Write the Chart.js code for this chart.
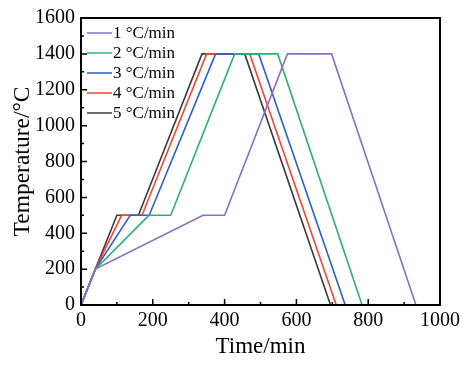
<!DOCTYPE html>
<html>
<head>
<meta charset="utf-8">
<script src="https://cdn.jsdelivr.net/npm/chart.js@4.4.0/dist/chart.umd.min.js"></script>
<style>
  body { margin: 0; background: #fff; }
  #wrap { width: 464px; height: 365px; }
</style>
</head>
<body>
<div id="wrap"><canvas id="tempChart" width="464" height="365"></canvas></div>
<script>
// heating / holding / cooling profiles (time in min, temperature in °C)
const seriesLabels = ['1 °C/min', '2 °C/min', '3 °C/min', '4 °C/min', '5 °C/min'];
const seriesColors = ['#8f6cc2', '#2fb070', '#2f5fc8', '#f2463a', '#3a3a3a'];

const time1 = [0, 40, 340, 400, 575, 698, 933];
const time2 = [0, 40, 189, 250, 428, 548, 783];
const time3 = [0, 40, 137, 190, 375, 495, 736];
const time4 = [0, 40, 113, 170, 350, 470, 711];
const time5 = [0, 40, 100, 160, 337, 456, 695];
const temps = [0, 200, 500, 500, 1400, 1400, 0];

const xTicks = [0, 200, 400, 600, 800, 1000];
const yTicks = [0, 200, 400, 600, 800, 1000, 1200, 1400, 1600];

const serif = '"Liberation Serif", "Times New Roman", serif';

function pts(times) {
    return times.map((t, i) => ({ x: t, y: temps[i] }));
}

const allTimes = [time1, time2, time3, time4, time5];

// frame, inward ticks and legend inside the plot
const framePlugin = {
    id: 'frame',
    afterDraw(chart) {
        const ctx = chart.ctx;
        const a = chart.chartArea;
        const xs = chart.scales.x;
        const ys = chart.scales.y;
        ctx.save();
        ctx.strokeStyle = '#000';
        ctx.lineWidth = 2;
        ctx.strokeRect(a.left, a.top, a.right - a.left, a.bottom - a.top);

        ctx.lineWidth = 1.5;
        ctx.beginPath();
        for (let v = 0; v <= 1000; v += 100) {
            const px = xs.getPixelForValue(v);
            const len = v % 200 === 0 ? 6 : 3;
            ctx.moveTo(px, a.bottom);
            ctx.lineTo(px, a.bottom - len);
        }
        for (let v = 0; v <= 1600; v += 100) {
            const py = ys.getPixelForValue(v);
            const len = v % 200 === 0 ? 6 : 3;
            ctx.moveTo(a.left, py);
            ctx.lineTo(a.left + len, py);
        }
        ctx.stroke();

        // legend
        ctx.font = '17px ' + serif;
        ctx.textBaseline = 'middle';
        ctx.fillStyle = '#000';
        chart.data.datasets.forEach((ds, i) => {
            const y = a.top + 15 + i * 20;
            ctx.strokeStyle = ds.borderColor;
            ctx.lineWidth = 1.5;
            ctx.beginPath();
            ctx.moveTo(a.left + 6, y);
            ctx.lineTo(a.left + 31, y);
            ctx.stroke();
            ctx.fillText(ds.label, a.left + 32, y + 1);
        });
        ctx.restore();
    }
};

new Chart(document.getElementById('tempChart'), {
    type: 'line',
    plugins: [framePlugin],
    data: {
        datasets: seriesLabels.map((lab, i) => ({
            label: lab,
            data: pts(allTimes[i]),
            borderColor: seriesColors[i],
            borderWidth: 1.6,
            pointRadius: 0,
            tension: 0,
            fill: false
        }))
    },
    options: {
        responsive: false,
        animation: false,
        layout: { padding: { left: 0, right: 23, top: 16, bottom: 0 } },
        plugins: {
            legend: { display: false },
            tooltip: { enabled: false }
        },
        scales: {
            x: {
                type: 'linear',
                min: 0,
                max: 1000,
                afterBuildTicks: (s) => { s.ticks = xTicks.map(v => ({ value: v })); },
                afterFit: (s) => { s.height = 60; },
                grid: { display: false, drawTicks: false },
                border: { display: false },
                ticks: { color: '#000', padding: 4, maxRotation: 0, callback: v => String(v), font: { family: serif, size: 20 } },
                title: { display: true, text: 'Time/min', color: '#000', padding: { top: 0, bottom: 4 }, font: { family: serif, size: 23 } }
            },
            y: {
                min: 0,
                max: 1600,
                afterBuildTicks: (s) => { s.ticks = yTicks.map(v => ({ value: v })); },
                afterFit: (s) => { s.width = 81; },
                grid: { display: false, drawTicks: false },
                border: { display: false },
                ticks: { color: '#000', padding: 6, callback: v => String(v), font: { family: serif, size: 20 } },
                title: { display: true, text: 'Temperature/°C', color: '#000', padding: { top: 9, bottom: 0 }, font: { family: serif, size: 23.5 } }
            }
        }
    }
});
</script>
</body>
</html>
